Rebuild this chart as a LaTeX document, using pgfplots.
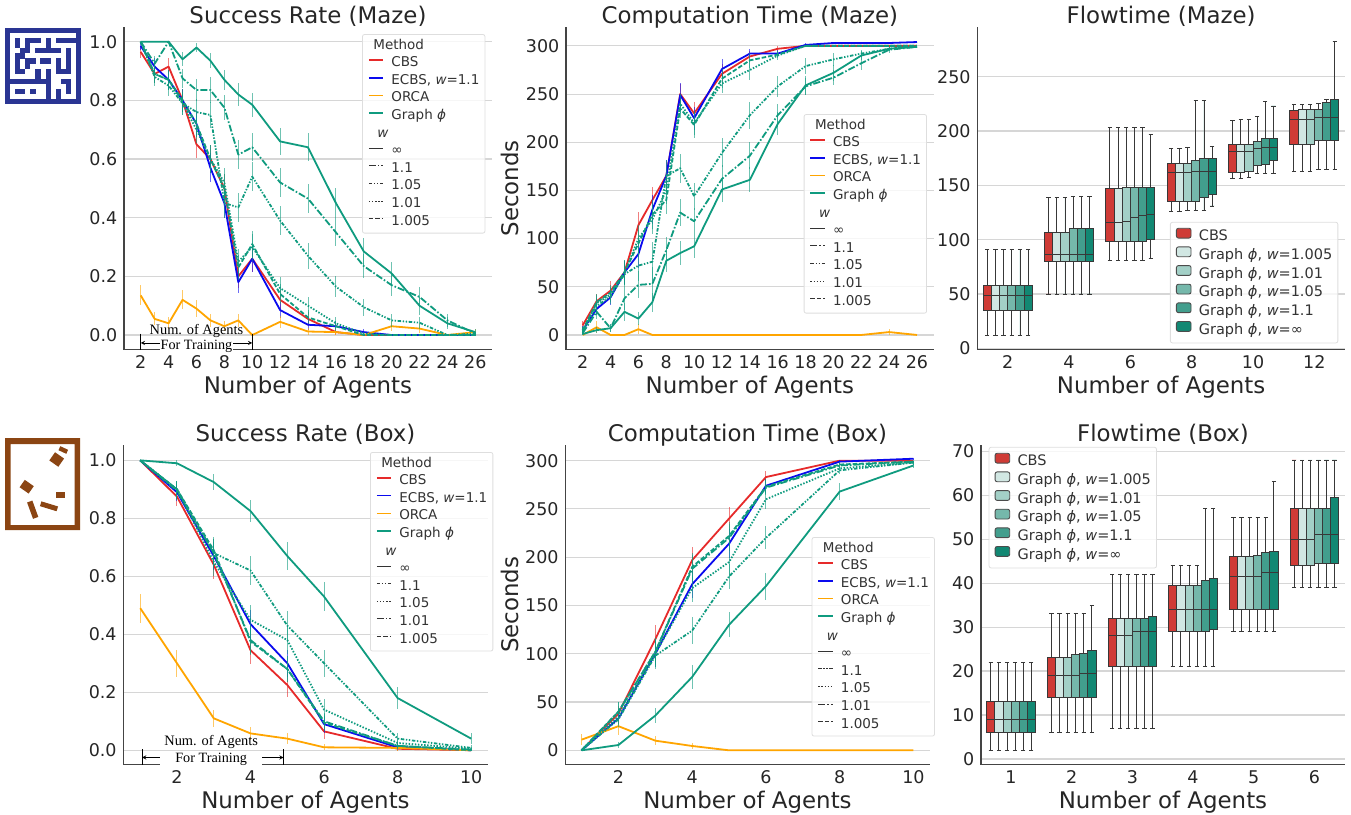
\documentclass[border=0pt]{standalone}
\usepackage{fontspec}
\setmainfont{DejaVu Sans}
\newfontfamily\serifann{Liberation Serif}
\usepackage{pgfplots}
\usepackage{pgfplotstable}
\pgfplotsset{compat=1.18}
\usepgfplotslibrary{statistics}
\definecolor{cCBS}{HTML}{E62A2A}
\definecolor{cECBS}{HTML}{0A0AEE}
\definecolor{cORCA}{HTML}{FFA500}
\definecolor{cGR}{HTML}{0F9B7F}
\definecolor{gridc}{HTML}{D6D6D6}
\definecolor{spine}{HTML}{444444}
\definecolor{bc0}{HTML}{CF3B36}
\definecolor{bc1}{HTML}{D1E7E3}
\definecolor{bc2}{HTML}{A3D0C7}
\definecolor{bc3}{HTML}{75B8AB}
\definecolor{bc4}{HTML}{429E8D}
\definecolor{bc5}{HTML}{128873}
\definecolor{mazeb}{HTML}{2A3593}
\definecolor{boxb}{HTML}{8B4513}
\definecolor{lgtxt}{HTML}{333333}
\newcommand{\ph}{{\itshape ϕ}}
\newcommand{\ww}{{\itshape w}}

\pgfplotstableread{
x c ce e ee o oe g ge a ae b be d de f fe
2 .965 .02 .985 .012 .135 .034 1 0 1 0 1 0 1 0 1 0
3 .89 .03 .915 .028 .055 .022 1 0 .925 .026 .88 .032 .89 .03 .89 .03
4 .915 .028 .87 .034 .04 .02 1 0 1 0 .85 .036 .87 .034 .87 .034
5 .80 .04 .80 .04 .12 .032 .94 .024 .875 .033 .79 .04 .79 .04 .80 .04
6 .65 .048 .72 .045 .09 .029 .98 .014 .835 .037 .76 .043 .70 .046 .72 .045
7 .60 .049 .57 .05 .05 .022 .935 .025 .835 .045 .75 .043 .60 .049 .60 .049
8 .50 .05 .45 .05 .03 .017 .87 .034 .775 .042 .45 .05 .52 .05 .50 .05
9 .20 .04 .18 .038 .05 .022 .82 .038 .615 .049 .435 .05 .25 .043 .23 .042
10 .26 .044 .26 .044 0 0 .785 .041 .64 .048 .54 .05 .30 .046 .31 .046
12 .12 .032 .085 .028 .045 .021 .66 .047 .52 .05 .39 .049 .16 .037 .14 .035
14 .055 .023 .035 .018 .012 .011 .64 .048 .465 .05 .27 .044 .10 .03 .06 .024
16 .01 .01 .03 .017 .01 .01 .45 .05 .35 .048 .165 .037 .04 .02 .03 .017
18 0 0 .01 .01 0 0 .285 .045 .235 .042 .095 .029 .005 .007 0 0
20 0 0 0 0 .03 .017 .21 .04 .17 .038 .05 .022 0 0 0 0
22 0 0 0 0 .022 .015 .10 .03 .13 .034 .042 .02 0 0 0 0
24 0 0 0 0 0 0 .04 .02 .05 .022 0 0 0 0 0 0
26 0 0 0 0 .01 .01 .01 .01 .005 .007 .005 .007 0 0 0 0
}\tA
\pgfplotstableread{
x c ce e ee o oe g ge a ae b be d de f fe
2 10 5 5 4 0 0 1 1 2 2 4 3 5 3 5 3
3 35 8 27 6 8 6 5 3 24 7 30 8 33 8 34 8
4 46 10 39 8 0 0 7 4 7 4 40 8 42 8 44 8
5 65 12 65 12 0 0 24 9 38 12 63 13 65 13 65 13
6 114 14 84 15 6 5 17 7 52 14 72 16 100 14 95 14
7 140 14 130 15 0 0 34 10 53 18 76 20 120 15 125 15
8 165 17 165 17 0 0 77 12 88 14 165 17 150 14 140 14
9 250 10 249 12 0 0 85 12 127 14 173 15 240 10 235 10
10 230 12 225 12 0 0 92 12 118 14 144 14 220 12 218 14
12 271 10 276 10 0 0 151 13 162 14 189 15 261 10 266 10
14 289 6 292 5 0 0 161 13 186 14 228 14 275 10 285 8
16 297 3 292 4 0 0 219 12 228 12 258 11 290 5 291 4
18 300 1 301 2 0 0 259 10 258 9 279 8 300 1 300 1
20 300 0 303 1 0 0 272 8 267 8 286 7 300 0 300 0
22 300 0 303 0 0 0 290 5 282 7 292 4 300 0 300 0
24 300 0 303 0 3 3 297 2 296 3 297 2 300 0 300 0
26 300 0 304 0 0 0 299 1 299 1 300 1 300 0 300 0
}\tB
\pgfplotstableread{
x c ce e ee o oe g ge a ae b be d de f fe
1 1 0 1 0 .49 .05 1 0 1 0 1 0 1 0 1 0
2 .875 .033 .89 .03 .30 .046 .99 .01 .90 .03 .90 .03 .895 .03 .90 .03
3 .64 .048 .67 .047 .11 .03 .925 .027 .68 .047 .65 .048 .68 .047 .69 .046
4 .345 .047 .435 .05 .058 .023 .825 .038 .62 .049 .45 .05 .38 .049 .375 .048
5 .225 .042 .30 .046 .04 .02 .67 .047 .43 .05 .38 .049 .28 .045 .28 .045
6 .065 .025 .09 .029 .01 .01 .53 .05 .30 .046 .14 .035 .10 .03 .095 .03
8 .005 .007 .01 .01 .008 .009 .18 .038 .04 .02 .025 .016 .015 .012 .015 .012
10 0 0 0 0 0 0 .04 .02 .008 .009 .005 .007 .002 .004 0 0
}\tC
\pgfplotstableread{
x c ce e ee o oe g ge a ae b be d de f fe
1 0 0 0 0 11 6 0 0 0 0 0 0 0 0 0 0
2 38 8 33 7 25 9 5.5 3 32 8 35 8 40 10 40 10
3 115 15 100 14 10 5 36 8 98 14 100 14 102 14 102 14
4 197 14 172 14 4.5 3 76 12 124 14 168 14 188 14 190 14
5 240 12 214 15 0 0 130 13 180 13 195 15 220 14 222 14
6 283 6 274 7 0 0 170 14 220 12 260 10 272 8 273 8
8 300 1 299 2 0 0 268 9 290 4 292 3 295 3 296 3
10 300 0 302 1 0 0 295 3 298 2 298 2 299 1 299 1
}\tD

\pgfkeys{/pgfplots/.cd,
 sA/.style={solid},
 sB/.style={dash pattern=on 7pt off 2pt on 1.6pt off 2pt},
 sC/.style={dash pattern=on 3.5pt off 1.6pt on 1.4pt off 1.6pt on 1.4pt off 1.6pt},
 sD/.style={dash pattern=on 1.5pt off 1.6pt},
 sE/.style={dash pattern=on 4.5pt off 2pt},
}
\newcommand{\ser}[4]{\addplot[forget plot,no markers,line width=1.8pt,line join=round,color=#3,#4,
  error bars/.cd,y dir=both,y explicit,error mark=none,
  error bar style={solid,line width=1pt,opacity=.6,color=#3}]
  table[x=x,y=#2,y error=#2e] {#1};}
\newcommand{\allser}[5]{%
  \ser{#1}{c}{cCBS}{solid}
  \ser{#1}{e}{cECBS}{solid}
  \ser{#1}{o}{cORCA}{solid}
  \ser{#1}{a}{cGR}{#2}
  \ser{#1}{b}{cGR}{#3}
  \ser{#1}{d}{cGR}{#4}
  \ser{#1}{f}{cGR}{#5}
  \ser{#1}{g}{cGR}{sA}
}
\newcommand{\lineleg}[4]{%
  \addlegendimage{empty legend}\addlegendentry{\hspace*{-18pt}Method}
  \addlegendimage{draw=cCBS,line width=1.5pt}\addlegendentry{CBS}
  \addlegendimage{draw=cECBS,line width=1.5pt}\addlegendentry{ECBS, \ww=1.1}
  \addlegendimage{draw=cORCA,line width=1.5pt}\addlegendentry{ORCA}
  \addlegendimage{draw=cGR,line width=1.5pt}\addlegendentry{Graph \ph}
  \addlegendimage{empty legend}\addlegendentry{\hspace*{-18pt}\ww}
  \addlegendimage{draw=black!80,line width=.9pt}\addlegendentry{∞}
  \addlegendimage{draw=black!80,line width=.9pt,#1}\addlegendentry{1.1}
  \addlegendimage{draw=black!80,line width=.9pt,#2}\addlegendentry{1.05}
  \addlegendimage{draw=black!80,line width=.9pt,#3}\addlegendentry{1.01}
  \addlegendimage{draw=black!80,line width=.9pt,#4}\addlegendentry{1.005}
}
\newcommand{\bx}[7]{\addplot[forget plot,draw=black!78,line width=.9pt,fill=bc#2,
  boxplot prepared={draw direction=y,draw position={#1+(#2-2.5)*0.1333},box extend=0.1333,whisker extend=0.07,
  lower whisker=#3,lower quartile=#4,median=#5,upper quartile=#6,upper whisker=#7}] coordinates {};}
\newcommand{\boxleg}{%
  \addlegendimage{lgbox,fill=bc0}\addlegendentry{CBS}
  \addlegendimage{lgbox,fill=bc1}\addlegendentry{Graph \ph, \ww=1.005}
  \addlegendimage{lgbox,fill=bc2}\addlegendentry{Graph \ph, \ww=1.01}
  \addlegendimage{lgbox,fill=bc3}\addlegendentry{Graph \ph, \ww=1.05}
  \addlegendimage{lgbox,fill=bc4}\addlegendentry{Graph \ph, \ww=1.1}
  \addlegendimage{lgbox,fill=bc5}\addlegendentry{Graph \ph, \ww=∞}
}
\newcommand{\fsz}{\fontsize{22.9}{26}\selectfont}
\pgfplotsset{
 pn/.style={scale only axis,clip mode=individual,anchor=south west,
  axis x line*=bottom,axis y line*=left,
  axis line style={-,line width=1.1pt,color=spine},
  major tick length=0pt,
  ymajorgrids,grid style={line width=1.1pt,color=gridc},
  tick label style={font=\fontsize{17.5}{20}\selectfont,text=black!85},
  /pgf/number format/assume math mode=true,
  xticklabel style={anchor=base,yshift=-19pt},
  yticklabel style={inner sep=0pt,anchor=east,xshift=-6.5pt},
  title style={font=\fsz,text=black!85,at={(0.5,1)},anchor=base,yshift=-2.5pt},
  xlabel={Number of Agents},
  xlabel style={font=\fsz,text=black!85,at={(0.5,0)},anchor=base,yshift=-44pt},
  ylabel style={font=\fsz,text=black!85,anchor=base},
  legend cell align=left,
  legend style={draw=black!13,line width=.8pt,rounded corners=2pt,fill=white,fill opacity=.8,text opacity=1,
    anchor=north west,font=\fontsize{13.5}{15}\selectfont\color{lgtxt},
    inner xsep=5.6pt,inner ysep=4.8pt,column sep=7.4pt,row sep=4.6pt,
    nodes={inner sep=0pt,text height=9.8pt,text depth=3.2pt}},
  legend image code/.code={\draw[#1] (0pt,3.2pt) -- (14.4pt,3.2pt);},
 },
 lgbox/.style={draw=black!70,line width=.9pt,fill opacity=1,legend image code/.code={\draw[##1] (0pt,-.4pt) rectangle (14.6pt,9.4pt);}},
 boxleg/.style={legend style={row sep=2.3pt,inner ysep=5.5pt,font=\fontsize{14.5}{16}\selectfont\color{lgtxt}}},
 one/.style={/pgf/number format/fixed,/pgf/number format/fixed zerofill,/pgf/number format/precision=1},
}
\begin{document}
\begin{tikzpicture}
\useasboundingbox (0pt,0pt) rectangle (1351pt,-814pt);
% icons
\begin{scope}[x=1pt,y=-1pt,shift={(5,28)}]
\fill[mazeb] (0,0) rectangle (76,76);
\fill[white] (5.07,5.07) rectangle (70.93,70.93);
\foreach \r/\cl in {2/{2,4,5,6,8,10,11,12,13},3/{2,4,8},4/{3,4,6,7,8,9,10,12},5/{2,3,12},6/{2,4,5,7,8,10,12},7/{2,4,10,12},8/{2,3,6,8,10,11,12},9/{6,8},10/{1,2,3,4,5,6,7,8,11,12},11/{8,12},12/{2,3,5,8,10,12},13/{8,10}}{
  \foreach \c in \cl {\fill[mazeb] (\c*5.067,\r*5.067) rectangle ({(\c+1)*5.067+.1},{(\r+1)*5.067+.1});}
}
\end{scope}
\begin{scope}[x=1pt,y=-1pt]
\fill[boxb,even odd rule] (5,438) rectangle (80,530) (10.7,444) rectangle (74.7,525);
\fill[boxb,rotate around={-35:(56.7,459.5)}] (51.2,454.5) rectangle (62.2,464.5);
\fill[boxb,rotate around={-25:(63.3,450)}] (59,447.8) rectangle (67.6,452.2);
\fill[boxb,rotate around={-35:(26.7,486.7)}] (21.2,482.2) rectangle (32.2,491.2);
\fill[boxb] (56,492.3) rectangle (64.5,497.7);
\fill[boxb,rotate around={-17:(49,506.3)}] (40.3,503.8) rectangle (57.7,508.8);
\fill[boxb,rotate around={-70:(32.7,509.7)}] (24,506.9) rectangle (41.4,512.5);
\end{scope}

% panel 1
\begin{axis}[pn,at={(124pt,-349.7pt)},width=368pt,height=322.7pt,
  title={Success Rate (Maze)},xmin=0.8,xmax=27.2,ymin=-0.05,ymax=1.05,
  xtick={2,4,...,26},ytick={0,0.2,0.4,0.6,0.8,1},yticklabel style={one},
  legend style={at={(.647,.978)}}]
\allser{\tA}{sB}{sC}{sD}{sE}
\lineleg{sB}{sC}{sD}{sE}
\draw[line width=.9pt,black] (axis cs:2,0.005) -- (axis cs:2,-0.05) (axis cs:10,0.005) -- (axis cs:10,-0.05);
\draw[line width=.9pt,black,stealth-stealth] (axis cs:2,-0.027) -- (axis cs:10,-0.027);
\node[font=\serifann\fontsize{14.4}{17}\selectfont,inner sep=0pt] at (axis cs:6,0.014) {Num. of Agents};
\node[font=\serifann\fontsize{14.2}{17}\selectfont,fill=white,inner sep=1pt] at (axis cs:6,-0.038) {For Training};
\end{axis}

% panel 2
\begin{axis}[pn,at={(566pt,-349.7pt)},width=367.7pt,height=322.7pt,
  title={Computation Time (Maze)},xmin=0.8,xmax=27.2,ymin=-15.3,ymax=319.6,
  xtick={2,4,...,26},ytick={0,50,...,300},
  ylabel={Seconds},ylabel style={at={(axis description cs:-0.1305,0.5)}},
  legend style={at={(.6465,.730)}}]
\allser{\tB}{sB}{sC}{sD}{sE}
\lineleg{sB}{sC}{sD}{sE}
\end{axis}

% panel 3
\begin{axis}[pn,boxleg,at={(977.3pt,-349.7pt)},width=367.7pt,height=322.7pt,
  title={Flowtime (Maze)},xmin=-0.496,xmax=5.5,ymin=-1.3,ymax=295.7,
  xtick={0,...,5},xticklabels={2,4,6,8,10,12},ytick={0,50,...,250},
  legend style={at={(.524,.396)}}]
\bx{0}{0}{12}{35}{49}{58}{91}\bx{0}{1}{12}{35}{49}{58}{91}\bx{0}{2}{12}{35}{49}{58}{91}\bx{0}{3}{12}{35}{49}{58}{91}\bx{0}{4}{12}{35}{49}{58}{91}\bx{0}{5}{12}{35}{49}{58}{91}
\bx{1}{0}{50}{80}{86}{107}{139}\bx{1}{1}{50}{80}{86}{107}{139}\bx{1}{2}{50}{80}{86}{107}{139}\bx{1}{3}{50}{80}{86}{110}{140}\bx{1}{4}{50}{80}{86}{110}{140}\bx{1}{5}{50}{80}{86}{110}{140}
\bx{2}{0}{81}{98}{116}{147}{203}\bx{2}{1}{81}{98}{116}{147}{203}\bx{2}{2}{81}{98}{117}{148}{203}\bx{2}{3}{81}{98}{120}{148}{203}\bx{2}{4}{81}{98}{122}{148}{203}\bx{2}{5}{83}{100}{123}{148}{197}
\bx{3}{0}{126}{135}{162}{170}{184}\bx{3}{1}{126}{135}{162}{170}{184}\bx{3}{2}{127}{135}{162}{170}{185}\bx{3}{3}{127}{135}{163}{173}{228}\bx{3}{4}{127}{139}{163}{175}{228}\bx{3}{5}{131}{142}{163}{175}{186}
\bx{4}{0}{156}{162}{181}{188}{210}\bx{4}{1}{156}{162}{181}{188}{211}\bx{4}{2}{157}{163}{181}{188}{211}\bx{4}{3}{161}{168}{184}{190}{213}\bx{4}{4}{161}{169}{185}{193}{227}\bx{4}{5}{161}{173}{185}{193}{223}
\bx{5}{0}{163}{188}{211}{219}{224}\bx{5}{1}{163}{188}{211}{220}{224}\bx{5}{2}{163}{188}{211}{220}{224}\bx{5}{3}{165}{191}{212}{220}{225}\bx{5}{4}{165}{191}{212}{226}{229}\bx{5}{5}{165}{191}{212}{229}{282}
\boxleg
\end{axis}

% panel 4
\begin{axis}[pn,at={(123.3pt,-764.7pt)},width=364.4pt,height=319.7pt,
  title={Success Rate (Box)},xmin=0.54,xmax=10.45,ymin=-0.05,ymax=1.053,
  xtick={2,4,6,8,10},ytick={0,0.2,0.4,0.6,0.8,1},yticklabel style={one},
  legend style={at={(.677,.978)}}]
\allser{\tC}{sC}{sD}{sB}{sE}
\lineleg{sC}{sD}{sB}{sE}
\draw[line width=.9pt,black] (axis cs:1.05,0.003) -- (axis cs:1.05,-0.05) (axis cs:4.9,0.003) -- (axis cs:4.9,-0.05);
\draw[line width=.9pt,black,stealth-stealth] (axis cs:1.05,-0.025) -- (axis cs:4.9,-0.025);
\node[font=\serifann\fontsize{14.4}{17}\selectfont,inner sep=0pt] at (axis cs:2.93,0.029) {Num. of Agents};
\node[font=\serifann\fontsize{14.2}{17}\selectfont,fill=white,inner xsep=15pt,inner ysep=1pt] at (axis cs:2.93,-0.03) {For Training};
\end{axis}

% panel 5
\begin{axis}[pn,at={(565.3pt,-764.7pt)},width=364.4pt,height=319.7pt,
  title={Computation Time (Box)},xmin=0.56,xmax=10.44,ymin=-14.9,ymax=316.2,
  xtick={2,4,6,8,10},ytick={0,50,...,300},
  ylabel={Seconds},ylabel style={at={(axis description cs:-0.129,0.5)}},
  legend style={at={(.676,.712)}}]
\allser{\tD}{sC}{sD}{sB}{sE}
\lineleg{sC}{sD}{sB}{sE}
\end{axis}

% panel 6
\begin{axis}[pn,boxleg,at={(981pt,-764.7pt)},width=364pt,height=319.7pt,
  title={Flowtime (Box)},xmin=-0.495,xmax=5.505,ymin=-1.3,ymax=71.4,
  xtick={0,...,5},xticklabels={1,2,3,4,5,6},ytick={0,10,...,70},
  legend style={at={(.021,.994)}}]
\bx{0}{0}{2}{6}{9}{13}{22}\bx{0}{1}{2}{6}{9}{13}{22}\bx{0}{2}{2}{6}{9}{13}{22}\bx{0}{3}{2}{6}{9}{13}{22}\bx{0}{4}{2}{6}{9}{13}{22}\bx{0}{5}{2}{6}{9}{13}{22}
\bx{1}{0}{6}{14}{19}{23}{33}\bx{1}{1}{6}{14}{19}{23}{33}\bx{1}{2}{6}{14}{19}{23}{33}\bx{1}{3}{6}{14}{19}{23.7}{33}\bx{1}{4}{6}{14}{19.5}{24}{33}\bx{1}{5}{6}{14}{19.5}{24.7}{35}
\bx{2}{0}{7}{21}{28}{32}{42}\bx{2}{1}{7}{21}{28}{32}{42}\bx{2}{2}{7}{21}{28}{32}{42}\bx{2}{3}{7}{21}{29}{32}{42}\bx{2}{4}{7}{21}{29}{32}{42}\bx{2}{5}{7}{21}{29}{32.5}{42}
\bx{3}{0}{21}{29}{34}{39.5}{44}\bx{3}{1}{21}{29}{34}{39.5}{44}\bx{3}{2}{21}{29}{34}{39.5}{44}\bx{3}{3}{21}{29}{34}{39.5}{44}\bx{3}{4}{21}{29}{34}{40.7}{57}\bx{3}{5}{21}{29.5}{34}{41}{57}
\bx{4}{0}{29}{34}{41.5}{46}{55}\bx{4}{1}{29}{34}{41.5}{46}{55}\bx{4}{2}{29}{34}{41.5}{46}{55}\bx{4}{3}{29}{34}{41.5}{46.3}{55}\bx{4}{4}{29}{34}{42.5}{47}{55}\bx{4}{5}{29}{34}{42.5}{47.3}{63}
\bx{5}{0}{39}{44}{50}{57}{68}\bx{5}{1}{39}{44}{50}{57}{68}\bx{5}{2}{39}{44}{50}{57}{68}\bx{5}{3}{39}{44.5}{51}{57}{68}\bx{5}{4}{39}{44.5}{51}{57}{68}\bx{5}{5}{39}{44.5}{51}{59.5}{68}
\boxleg
\end{axis}
\end{tikzpicture}
\end{document}
